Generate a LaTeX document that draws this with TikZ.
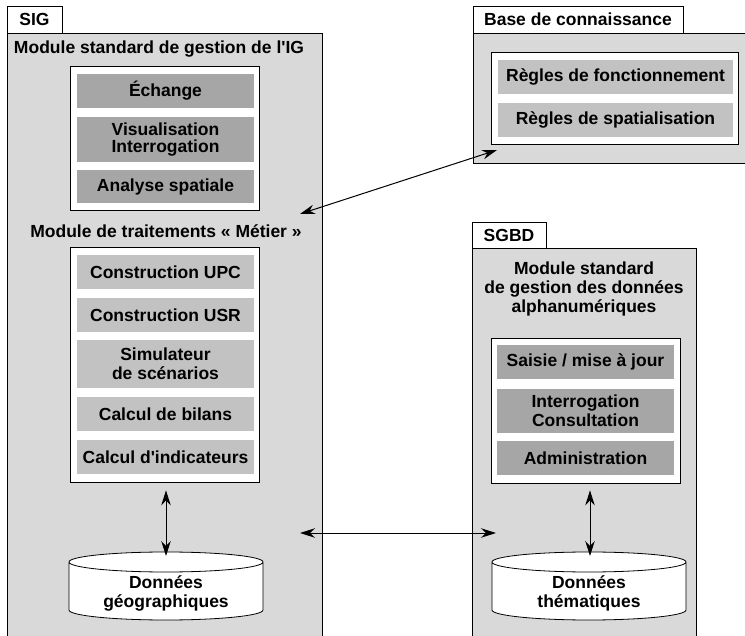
\documentclass[tikz,border=0pt]{standalone}
\usepackage{fontspec}
\setmainfont{Liberation Sans}
\usetikzlibrary{arrows.meta,positioning}
\definecolor{panelgray}{gray}{0.85}
\definecolor{boxdark}{gray}{0.65}
\definecolor{boxlight}{gray}{0.76}

\begin{document}
\begin{tikzpicture}[x=1pt,y=-1pt,
  every node/.style={font=\fontsize{17.5}{19}\selectfont\bfseries, align=center},
  panel/.style={draw, fill=panelgray, line width=0.8pt},
  tabbox/.style={draw, fill=white, line width=0.8pt, inner sep=0pt, minimum height=27pt},
  frame/.style={draw, fill=white, line width=0.8pt, inner sep=0pt},
  opdark/.style={fill=boxdark, inner sep=0pt, minimum width=177pt},
  oplight/.style={fill=boxlight, inner sep=0pt, minimum width=177pt},
  link/.style={{Stealth[length=15pt,width=9.5pt,inset=5pt]}-{Stealth[length=15pt,width=9.5pt,inset=5pt]}, line width=1pt}]
  \useasboundingbox (0,0) rectangle (745,636);
  \clip (0,0) rectangle (745,636);

  % Panels
  \draw[panel] (7,33) rectangle (322,650);
  \draw[panel] (473,33) rectangle (760,163);
  \draw[panel] (472,248) rectangle (696,650);
  \node[tabbox, minimum width=55pt] (sigtab) at (34.5,19.5) {SIG};
  \node[tabbox, minimum width=210pt] (kbtab) at (578,19.5) {Base de connaissance};
  \node[tabbox, minimum width=74pt, minimum height=26pt] (dbtab) at (509,235) {SGBD};

  % SIG
  \node (sigmod) at (159,49) {Module standard de gestion de l\textquotesingle IG};
  \node[frame, minimum width=189pt, minimum height=144pt] (ig) at (164.5,138) {};
  \node[opdark, minimum height=34pt] (ech) at (165.5,91) {Échange};
  \node[opdark, minimum height=45pt, font=\fontsize{17.5}{16.5}\selectfont\bfseries] (visu) at (165.5,139.5) {Visualisation\\Interrogation};
  \node[opdark, minimum height=33pt] (anal) at (165.5,186.5) {Analyse spatiale};

  \node (metmod) at (166,231) {Module de traitements « Métier »};
  \node[frame, minimum width=189pt, minimum height=235pt] (metier) at (164.5,364.5) {};
  \node[oplight, minimum height=34pt] (upc) at (165.5,272) {Construction UPC};
  \node[oplight, minimum height=34pt] (usr) at (165.5,315) {Construction USR};
  \node[oplight, minimum height=48pt] (simu) at (165.5,364) {Simulateur\\de scénarios};
  \node[oplight, minimum height=34pt] (bil) at (165.5,414) {Calcul de bilans};
  \node[oplight, minimum height=34pt] (indic) at (165.5,457) {Calcul d\textquotesingle indicateurs};

  % Base de connaissance
  \node[frame, minimum width=247pt, minimum height=92pt] (regles) at (614.5,98) {};
  \node[oplight, minimum width=235pt, minimum height=34pt] (fonc) at (615.5,77) {Règles de fonctionnement};
  \node[oplight, minimum width=235pt, minimum height=34pt] (spat) at (615.5,120) {Règles de spatialisation};

  % SGBD
  \node (dbmod) at (584,289) {Module standard\\de gestion des données\\alphanumériques};
  \node[frame, minimum width=189pt, minimum height=145pt] (alpha) at (585.5,410.5) {};
  \node[opdark, minimum height=34pt] (saisie) at (585.5,362) {Saisie / mise à jour};
  \node[opdark, minimum height=44pt] (consu) at (585.5,411) {Interrogation\\Consultation};
  \node[opdark, minimum height=34pt] (admin) at (585.5,458) {Administration};

  % Cylinders
  \foreach \cx in {166,589}
    \draw[fill=white, line width=0.8pt] (\cx-97,562) -- (\cx-97,610)
      arc[start angle=180, end angle=360, x radius=97pt, y radius=10pt]
      -- (\cx+97,562) arc[start angle=0, end angle=180, x radius=97pt, y radius=10pt]
      arc[start angle=180, end angle=360, x radius=97pt, y radius=10pt];
  \node (geo) at (166,593.5) {Données\\géographiques};
  \node (them) at (589,593.5) {Données\\thématiques};
  \coordinate (geotop) at (166,556);
  \coordinate (themtop) at (590,556);

  % Links
  \coordinate (sigin) at (300,214);
  \coordinate (kbin) at (497,150);
  \coordinate (sigout) at (300,533);
  \coordinate (dbin) at (496,533);
  \draw[link] (sigin) -- (kbin);
  \draw[link] (sigout) -- (dbin);
  \draw[link] ([yshift=-8pt]metier.south -| geotop) -- (geotop);
  \draw[link] ([yshift=-7pt]alpha.south -| themtop) -- (themtop);
\end{tikzpicture}
\end{document}
